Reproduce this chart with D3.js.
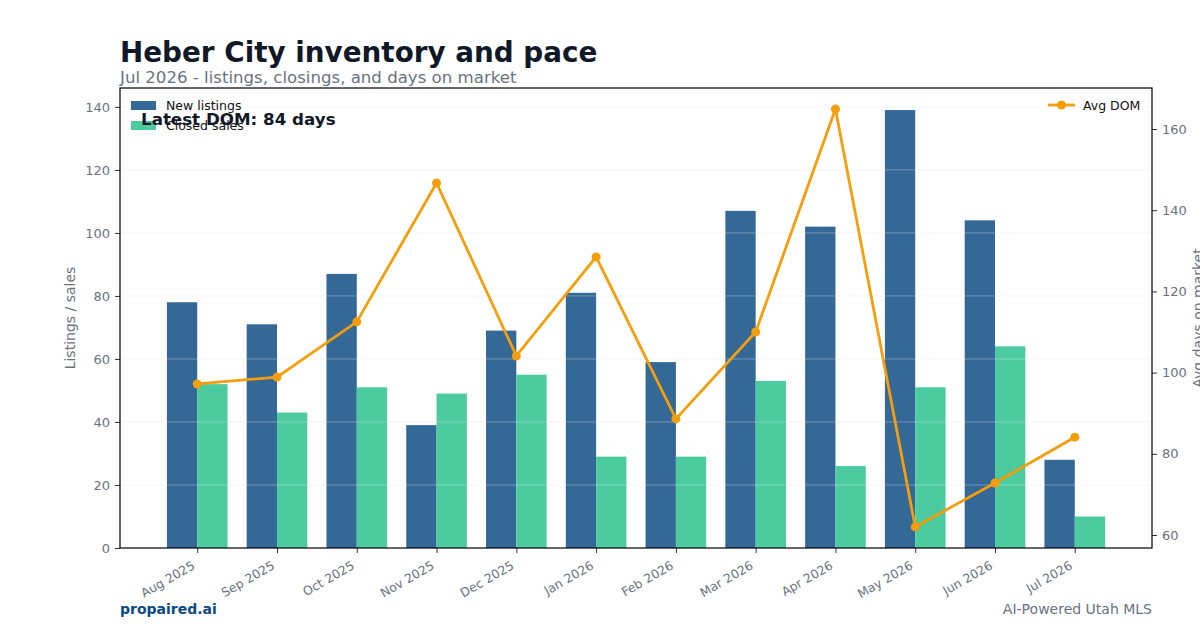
<!DOCTYPE html>
<html><head><meta charset="utf-8">
<script src="https://cdn.jsdelivr.net/npm/d3@7"></script>
<style>body{margin:0;background:#fff}svg{display:block;font-family:"DejaVu Sans",sans-serif}</style>
</head><body><svg id="c" width="1200" height="630"></svg>
<script>
const months = ["Aug 2025","Sep 2025","Oct 2025","Nov 2025","Dec 2025","Jan 2026","Feb 2026","Mar 2026","Apr 2026","May 2026","Jun 2026","Jul 2026"];
const newListings = [78,71,87,39,69,81,59,107,102,139,104,28];
const closedSales = [52,43,51,49,55,29,29,53,26,51,64,10];
const avgDom = [97.2,98.9,112.5,146.7,104.1,128.5,88.6,110,164.9,62,72.8,84.1];
const leftTicks = [0,20,40,60,80,100,120,140];
const rightTicks = [60,80,100,120,140,160];

const svg = d3.select("#c");
const L=120,R=1152,T=88,B=548;
const x = d3.scaleLinear().domain([-0.968, 11.968]).range([L,R]);
const y = d3.scaleLinear().domain([0,146]).range([B,T]);
const y2 = d3.scaleLinear().domain([56.8,170.1]).range([B,T]);
const bw = 0.38;
const gray="#6b7280";

// bars
svg.append("g").selectAll("rect").data(newListings).join("rect")
  .attr("x",(d,i)=>x(i-bw)).attr("width",x(bw)-x(0))
  .attr("y",d=>y(d)).attr("height",d=>y(0)-y(d)).attr("fill","#336897");
svg.append("g").selectAll("rect").data(closedSales).join("rect")
  .attr("x",(d,i)=>x(i)).attr("width",x(bw)-x(0))
  .attr("y",d=>y(d)).attr("height",d=>y(0)-y(d)).attr("fill","#4bcb9e");

// grid
svg.append("g").selectAll("line").data(leftTicks.slice(1)).join("line")
  .attr("x1",L).attr("x2",R).attr("y1",d=>y(d)).attr("y2",d=>y(d))
  .attr("stroke","#e5e7eb").attr("stroke-opacity",0.45).attr("stroke-width",0.8);

// line
svg.append("path").datum(avgDom)
  .attr("d",d3.line().x((d,i)=>x(i)).y(d=>y2(d)))
  .attr("fill","none").attr("stroke","#f59e0b").attr("stroke-width",2.8);
svg.append("g").selectAll("circle").data(avgDom).join("circle")
  .attr("cx",(d,i)=>x(i)).attr("cy",d=>y2(d)).attr("r",4.5).attr("fill","#f59e0b");

// axes
const ax = svg.append("g").attr("transform",`translate(0,${B})`)
  .call(d3.axisBottom(x).tickValues(d3.range(months.length)).tickFormat(i=>months[i]).tickSize(5).tickPadding(4));
ax.selectAll("text").attr("fill",gray).attr("font-size",12.4).attr("text-anchor","end")
  .attr("x",0).attr("y",0).attr("dy",0).attr("transform","translate(-2,20) rotate(-30)");
const ay = svg.append("g").attr("transform",`translate(${L},0)`)
  .call(d3.axisLeft(y).tickValues(leftTicks).tickSize(5).tickPadding(5));
ay.selectAll("text").attr("fill",gray).attr("font-size",13);
const ay2 = svg.append("g").attr("transform",`translate(${R},0)`)
  .call(d3.axisRight(y2).tickValues(rightTicks).tickSize(5).tickPadding(5));
ay2.selectAll("text").attr("fill",gray).attr("font-size",13);
[ax,ay,ay2].forEach(g=>{g.select(".domain").remove();g.selectAll("line").attr("stroke","#333");g.attr("font-family",null);});

// frame
svg.append("rect").attr("x",L).attr("y",T).attr("width",R-L).attr("height",B-T)
  .attr("fill","none").attr("stroke","#000").attr("stroke-width",1.2);

// axis labels
svg.append("text").attr("transform",`translate(75,${(T+B)/2}) rotate(-90)`).attr("text-anchor","middle")
  .attr("fill",gray).attr("font-size",14).text("Listings / sales");
svg.append("text").attr("transform",`translate(1202.5,${(T+B)/2}) rotate(-90)`).attr("text-anchor","middle")
  .attr("fill",gray).attr("font-size",14).text("Avg days on market");

// legends
const lg = svg.append("g");
[["New listings","#336897",105],["Closed sales","#4bcb9e",125]].forEach(([t,c,yy])=>{
  lg.append("rect").attr("x",131).attr("y",yy-4).attr("width",25).attr("height",9).attr("fill",c);
  lg.append("text").attr("x",166).attr("y",yy+4.5).attr("font-size",12.5).attr("fill","#111").text(t);
});
lg.append("line").attr("x1",1048).attr("x2",1075).attr("y1",105).attr("y2",105).attr("stroke","#f59e0b").attr("stroke-width",2.8);
lg.append("circle").attr("cx",1061.5).attr("cy",105).attr("r",4.5).attr("fill","#f59e0b");
lg.append("text").attr("x",1083).attr("y",109.5).attr("font-size",12.5).attr("fill","#111").text("Avg DOM");

// annotation
svg.append("text").attr("x",141).attr("y",125).attr("font-size",16.7).attr("font-weight","bold").attr("fill","#111827")
  .text("Latest DOM: " + Math.round(avgDom[avgDom.length-1]) + " days");

// titles
svg.append("text").attr("x",120).attr("y",62).attr("font-size",27.8).attr("font-weight","bold").attr("fill","#111827").text("Heber City inventory and pace");
svg.append("text").attr("x",120).attr("y",83).attr("font-size",16.6).attr("fill",gray).text("Jul 2026 - listings, closings, and days on market");
svg.append("text").attr("x",120).attr("y",614).attr("font-size",14).attr("font-weight","bold").attr("fill","#0b4a84").text("propaired.ai");
svg.append("text").attr("x",1152).attr("y",614).attr("font-size",14).attr("text-anchor","end").attr("fill",gray).text("AI-Powered Utah MLS");
</script></body></html>
